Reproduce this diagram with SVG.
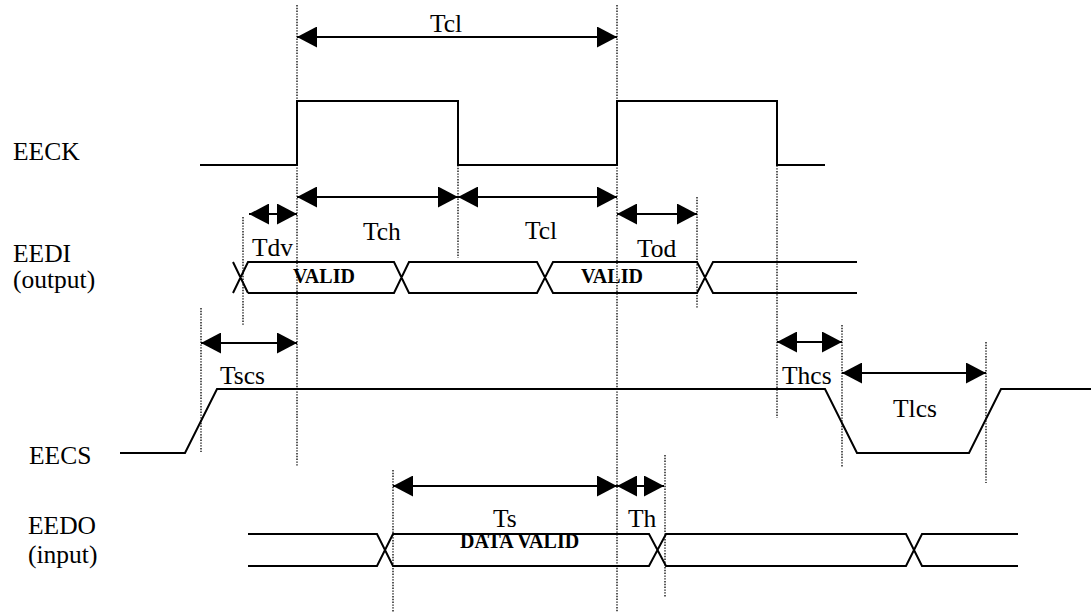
<svg xmlns="http://www.w3.org/2000/svg" width="1091" height="612" viewBox="0 0 1091 612">
<style>
  .wave { fill: none; stroke: #000; stroke-width: 2; stroke-linejoin: miter; }
  .guide { fill: none; stroke: #000; stroke-width: 1.3; stroke-dasharray: 1.4 1.4; }
  .dim { fill: none; stroke: #000; stroke-width: 2; marker-start: url(#ah-start); marker-end: url(#ah-end); }
  .lbl { font-family: 'Liberation Serif', 'DejaVu Serif', serif; font-size: 25.5px; fill: #000; }
  .bold { font-family: 'Liberation Serif', 'DejaVu Serif', serif; font-size: 20px; font-weight: bold; fill: #000; }
</style>
<defs>
  <marker id="ah-end" markerUnits="userSpaceOnUse" markerWidth="20" markerHeight="21" refX="20" refY="10.5" orient="auto">
    <path d="M0,0 L20,10.5 L0,21 z" fill="#000"/>
  </marker>
  <marker id="ah-start" markerUnits="userSpaceOnUse" markerWidth="20" markerHeight="21" refX="20" refY="10.5" orient="auto-start-reverse">
    <path d="M0,0 L20,10.5 L0,21 z" fill="#000"/>
  </marker>
</defs>
<rect width="1091" height="612" fill="#fff"/>

<g id="guides">
  <line class="guide" x1="297" y1="5" x2="297" y2="467"/>
  <line class="guide" x1="617" y1="5" x2="617" y2="612"/>
  <line class="guide" x1="458" y1="165" x2="458" y2="258"/>
  <line class="guide" x1="777" y1="101" x2="777" y2="418"/>
  <line class="guide" x1="243" y1="217" x2="243" y2="325"/>
  <line class="guide" x1="697" y1="197" x2="697" y2="309"/>
  <line class="guide" x1="201" y1="308" x2="201" y2="452"/>
  <line class="guide" x1="842" y1="325" x2="842" y2="467"/>
  <line class="guide" x1="986" y1="342" x2="986" y2="483"/>
  <line class="guide" x1="393" y1="470" x2="393" y2="612"/>
  <line class="guide" x1="665" y1="455" x2="665" y2="597"/>
</g>

<g id="eeck">
  <text class="lbl" font-family="Liberation Serif, serif" x="13" y="160">EECK</text>
  <path class="wave" d="M200,165 H297 V101 H458 V165 H617 V101 H777 V165 H825"/>
</g>

<g id="eedi">
  <text class="lbl" font-family="Liberation Serif, serif" x="13" y="262">EEDI</text>
  <text class="lbl" font-family="Liberation Serif, serif" x="13" y="288">(output)</text>
  <path class="wave" d="M233,262 L248,293 M233,293 L248,262 H394 L409,293 H537 L553,262 H697 L713,293 H857 M248,293 H394 L409,262 H537 L553,293 H697 L713,262 H857"/>
  <text class="bold" font-family="Liberation Serif, serif" x="293" y="283">VALID</text>
  <text class="bold" font-family="Liberation Serif, serif" x="581" y="283">VALID</text>
</g>

<g id="eecs">
  <text class="lbl" font-family="Liberation Serif, serif" x="29" y="464">EECS</text>
  <path class="wave" d="M120,453 H185 L217,389 H825 L857,453 H969 L1001,389 H1091"/>
</g>

<g id="eedo">
  <text class="lbl" font-family="Liberation Serif, serif" x="28" y="534">EEDO</text>
  <text class="lbl" font-family="Liberation Serif, serif" x="28" y="563">(input)</text>
  <path class="wave" d="M248,534 H377 L393,566 H649 L666,534 H906 L922,566 H1018 M248,566 H377 L393,534 H649 L666,566 H906 L922,534 H1018"/>
  <text class="bold" font-family="Liberation Serif, serif" x="460" y="548">DATA VALID</text>
</g>

<g id="connectors">
  <line class="dim" x1="297" y1="37" x2="617" y2="37"/>
  <line class="dim" x1="297" y1="197" x2="458" y2="197"/>
  <line class="dim" x1="458" y1="197" x2="617" y2="197"/>
  <line class="dim" x1="249" y1="214" x2="297" y2="214"/>
  <line class="dim" x1="617" y1="214" x2="697" y2="214"/>
  <line class="dim" x1="201" y1="343" x2="297" y2="343"/>
  <line class="dim" x1="777" y1="342" x2="842" y2="342"/>
  <line class="dim" x1="842" y1="373" x2="986" y2="373"/>
  <line class="dim" x1="393" y1="486" x2="617" y2="486"/>
  <line class="dim" x1="617" y1="486" x2="664" y2="486"/>
</g>

<g id="timing-labels">
  <text class="lbl" font-family="Liberation Serif, serif" x="430" y="32">Tcl</text>
  <text class="lbl" font-family="Liberation Serif, serif" x="363" y="240">Tch</text>
  <text class="lbl" font-family="Liberation Serif, serif" x="525" y="239">Tcl</text>
  <text class="lbl" font-family="Liberation Serif, serif" x="252" y="256">Tdv</text>
  <text class="lbl" font-family="Liberation Serif, serif" x="637" y="257">Tod</text>
  <text class="lbl" font-family="Liberation Serif, serif" x="220" y="384">Tscs</text>
  <text class="lbl" font-family="Liberation Serif, serif" x="782" y="384">Thcs</text>
  <text class="lbl" font-family="Liberation Serif, serif" x="893" y="417">Tlcs</text>
  <text class="lbl" font-family="Liberation Serif, serif" x="493" y="527">Ts</text>
  <text class="lbl" font-family="Liberation Serif, serif" x="628" y="527">Th</text>
</g>
</svg>
